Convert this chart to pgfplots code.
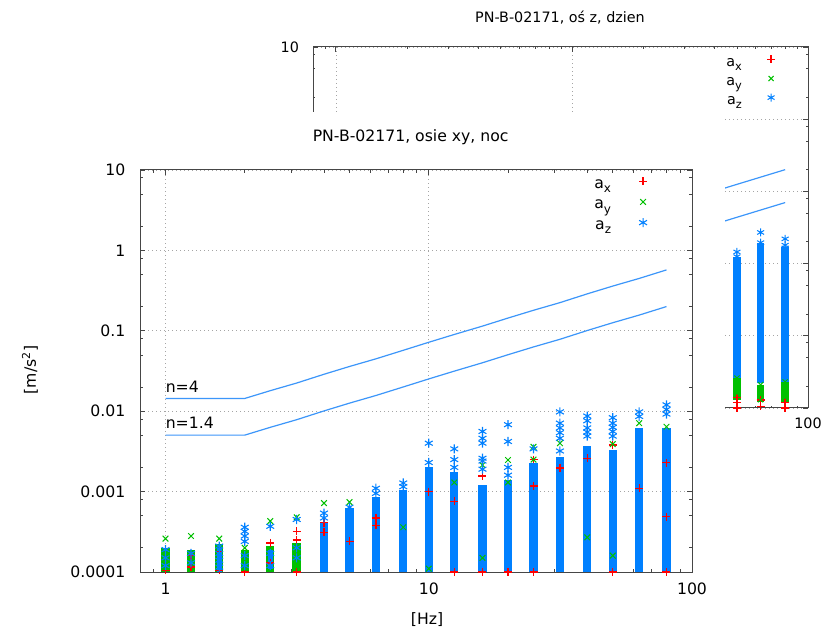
\documentclass[border=0pt]{standalone}
\usepackage{pgfplots}
\pgfplotsset{compat=1.18}
\usepackage{fontspec}
\setmainfont{DejaVu Sans}

\definecolor{gpred}{RGB}{255,0,0}
\definecolor{gpgreen}{RGB}{0,192,0}
\definecolor{gpblue}{RGB}{0,128,255}
\definecolor{gpline}{RGB}{60,150,250}
\definecolor{gpaxis}{RGB}{70,70,70}
\definecolor{gpgrid}{RGB}{165,165,165}

\newcommand\sub[2][9]{\raisebox{-0.5ex}{\fontsize{#1}{#1}\selectfont #2}}

\begin{document}
\begin{tikzpicture}
\path[use as bounding box] (0,0) rectangle (620.25pt,475.5pt);

% ---- back plot: os z, dzien
\begin{axis}[
  at={(234.75pt,169.5pt)}, anchor=south west,
  width=371.25pt, height=270.75pt,
  xmode=log, ymode=log, scale only axis,
  xmin=0.8, xmax=100, ymin=1e-4, ymax=10,
  xtick={1,10,100}, xticklabels={1,10,100},
  ytick={1e-4,1e-3,1e-2,1e-1,1,10},
  yticklabels={0.0001,0.001,0.01,0.1,1,10},
  minor xtick={0.8,0.9,2,3,4,5,6,7,8,9,20,30,40,50,60,70,80,90},
  minor ytick={2e-4,5e-4,8e-4,2e-3,5e-3,8e-3,0.02,0.05,0.08,0.2,0.5,0.8,2,5,8},
  tick pos=both, tick align=inside,
  major tick length=3.4pt, minor tick length=1.8pt,
  every tick/.style={gpaxis, line width=0.6pt},
  axis line style={gpaxis, line width=0.75pt},
  grid=major,
  major grid style={gpgrid, line width=0.5pt, dash pattern=on 0.75pt off 2.25pt},
  clip=false,
  xticklabel style={yshift=-4pt},
  yticklabel style={xshift=-7pt},
  ticklabel style={font=\fontsize{10.75}{12}\selectfont},
  legend plot pos=right,
  legend cell align=right,
  legend image code/.code={\draw[#1,yshift=3pt] plot coordinates {(0pt,0pt)};},
  legend style={draw=none, fill=none, inner sep=0pt, at={(1,1)}, anchor=north east,
    xshift=-24.5pt, yshift=-5pt, row sep=0pt, font=\fontsize{10.75}{12}\selectfont,
    nodes={inner sep=0.9pt, text height=8.5pt, text depth=4pt},
    /tikz/every odd column/.append style={column sep=18pt}},
]
\addplot[draw=gpgreen, line width=5.5pt, unbounded coords=jump, forget plot] coordinates {
  (50,1.3e-4) (50,2.6e-4) (50,nan)
  (63,1.2e-4) (63,2.1e-4) (63,nan)
  (80,1.2e-4) (80,2.3e-4)};
\addplot[draw=gpblue, line width=5.5pt, unbounded coords=jump, forget plot] coordinates {
  (50,2.6e-4) (50,1.24e-2) (50,nan)
  (63,2.2e-4) (63,1.92e-2) (63,nan)
  (80,2.3e-4) (80,1.7e-2)};
\addplot[only marks, mark=+, draw=gpred, color=gpred, mark size=3pt,
  mark options={solid, draw=gpred, line width=1.1pt}]
  coordinates {(50,1.4e-4) (50,1.2e-4) (50,1.0e-4) (63,1.3e-4) (63,1.05e-4) (80,1.2e-4) (80,1.0e-4)};
\addlegendentry{a\sub[8.5]{x}}
\addplot[only marks, mark=x, color=gpgreen, mark size=2.7pt,
  mark options={draw=gpgreen, line width=0.75pt}]
  coordinates {(50,2.6e-4) (50,1.6e-4) (63,2.1e-4) (63,1.3e-4) (80,2.3e-4) (80,1.4e-4)};
\addlegendentry{a\sub[8.5]{y}}
\addplot[only marks, mark=asterisk, color=gpblue, mark size=3pt,
  mark options={draw=gpblue, line width=0.75pt}]
  coordinates {(50,1.45e-2) (50,1.25e-2) (63,2.7e-2) (63,1.95e-2) (80,2.2e-2) (80,1.8e-2) (80,1.65e-2)};
\addlegendentry{a\sub[8.5]{z}}
% PN-B-02171 curves, n=4 and n=1.4
\addplot[gpline, line width=0.9pt, forget plot] coordinates {
  (1,0.04) (1.25,0.0356) (1.6,0.032) (2,0.028) (2.5,0.0252) (3.15,0.0228) (4,0.02) (5,0.02)
  (6.3,0.02) (8,0.02) (10,0.025) (12.5,0.0312) (16,0.04) (20,0.05) (25,0.0624) (31.5,0.0788)
  (40,0.1) (50,0.1252) (63,0.1576) (80,0.2)};
\addplot[gpline, line width=0.9pt, forget plot] coordinates {
  (1,0.014) (1.25,0.01246) (1.6,0.0112) (2,0.0098) (2.5,0.00882) (3.15,0.00798) (4,0.007) (5,0.007)
  (6.3,0.007) (8,0.007) (10,0.00875) (12.5,0.01092) (16,0.014) (20,0.0175) (25,0.02184) (31.5,0.02758)
  (40,0.035) (50,0.04382) (63,0.05516) (80,0.07)};
\end{axis}

% canvas of the front plot
\fill[white] (0,0) rectangle (543.75pt,391.5pt);

% ---- front plot: osie xy, noc
\begin{axis}[
  at={(105pt,46.5pt)}, anchor=south west,
  width=414pt, height=301.5pt,
  xmode=log, ymode=log, scale only axis,
  xmin=0.8, xmax=100, ymin=1e-4, ymax=10,
  xtick={1,10,100}, xticklabels={1,10,100},
  ytick={1e-4,1e-3,1e-2,1e-1,1,10},
  yticklabels={0.0001,0.001,0.01,0.1,1,10},
  minor xtick={0.8,0.9,2,3,4,5,6,7,8,9,20,30,40,50,60,70,80,90},
  minor ytick={2e-4,5e-4,8e-4,2e-3,5e-3,8e-3,0.02,0.05,0.08,0.2,0.5,0.8,2,5,8},
  tick pos=both, tick align=inside,
  major tick length=3.75pt, minor tick length=2pt,
  every tick/.style={gpaxis, line width=0.6pt},
  axis line style={gpaxis, line width=0.75pt},
  grid=major,
  major grid style={gpgrid, line width=0.5pt, dash pattern=on 0.75pt off 2.25pt},
  clip=false,
  xticklabel style={yshift=-4.5pt},
  yticklabel style={xshift=-7.5pt},
  ticklabel style={font=\fontsize{11.75}{13}\selectfont},
  legend plot pos=right,
  legend cell align=right,
  legend image code/.code={\draw[#1,yshift=3pt] plot coordinates {(0pt,0pt)};},
  legend style={draw=none, fill=none, inner sep=0pt, at={(1,1)}, anchor=north east,
    xshift=-33.5pt, yshift=-3.5pt, row sep=0pt, font=\fontsize{11.75}{13}\selectfont,
    nodes={inner sep=1pt, text height=9pt, text depth=4.5pt},
    /tikz/every odd column/.append style={column sep=20pt}},
]
\addplot[draw=gpgreen, line width=6.3pt, unbounded coords=jump, forget plot] coordinates {
  (1,1e-4) (1,2.0e-4) (1,nan)
  (1.25,1e-4) (1.25,1.9e-4) (1.25,nan)
  (1.6,1e-4) (1.6,2.2e-4) (1.6,nan)
  (2,1e-4) (2,1.9e-4) (2,nan)
  (2.5,1e-4) (2.5,2.1e-4) (2.5,nan)
  (3.15,1e-4) (3.15,2.3e-4)};
\addplot[draw=gpblue, line width=4pt, unbounded coords=jump, forget plot] coordinates {
  (1.6,1e-4) (1.6,2.0e-4) (1.6,nan)
  (2.5,1.1e-4) (2.5,1.9e-4)};
\addplot[draw=gpblue, line width=6.3pt, unbounded coords=jump, forget plot] coordinates {
  (4,1e-4) (4,4.2e-4) (4,nan)
  (5,1e-4) (5,6.2e-4) (5,nan)
  (6.3,1e-4) (6.3,8.6e-4) (6.3,nan)
  (8,1e-4) (8,1.05e-3) (8,nan)
  (10,1e-4) (10,2.02e-3) (10,nan)
  (12.5,1e-4) (12.5,1.75e-3) (12.5,nan)
  (16,1e-4) (16,1.2e-3) (16,nan)
  (20,1e-4) (20,1.4e-3) (20,nan)
  (25,1e-4) (25,2.3e-3) (25,nan)
  (31.5,1e-4) (31.5,2.7e-3) (31.5,nan)
  (40,1e-4) (40,3.7e-3) (40,nan)
  (50,1e-4) (50,3.3e-3) (50,nan)
  (63,1e-4) (63,6.2e-3) (63,nan)
  (80,1e-4) (80,6.2e-3)};
\addplot[only marks, mark=+, draw=gpred, color=gpred, mark size=3pt,
  mark options={solid, draw=gpred, line width=1pt}]
  coordinates {(1,1.05e-4) (1.25,1.15e-4) (1.25,1.6e-4) (1.6,1.8e-4) (1.6,1.05e-4) (2,1.0e-4)
  (2.5,2.3e-4) (2.5,1.3e-4) (3.15,3.2e-4) (3.15,2.5e-4) (3.15,1.0e-4) (4,4.1e-4) (4,3.1e-4)
  (5,2.4e-4) (6.3,4.7e-4) (6.3,3.8e-4) (10,1.0e-3) (12.5,7.6e-4) (12.5,1.0e-4) (16,1.56e-3)
  (16,1.0e-4) (20,1.0e-4) (25,2.5e-3) (25,1.17e-3) (25,1.0e-4) (31.5,1.97e-3) (40,2.6e-3)
  (50,3.8e-3) (50,1.0e-4) (63,1.1e-3) (80,2.3e-3) (80,4.9e-4) (80,1.0e-4)};
\addlegendentry{a\sub{x}}
\addplot[only marks, mark=x, color=gpgreen, mark size=3pt,
  mark options={draw=gpgreen, line width=0.75pt}]
  coordinates {(1,2.6e-4) (1.25,2.8e-4) (1.6,2.6e-4) (2,2.0e-4) (2.5,4.3e-4) (3.15,4.8e-4)
  (4,7.2e-4) (5,7.4e-4) (8,3.6e-4) (10,1.1e-4) (12.5,1.3e-3) (16,2.14e-3) (16,1.5e-4)
  (20,2.47e-3) (20,1.3e-3) (25,3.6e-3) (25,2.5e-3) (31.5,4.0e-3) (40,2.7e-4) (50,3.9e-3)
  (50,1.6e-4) (63,7.1e-3) (80,6.4e-3)};
\addlegendentry{a\sub{y}}
\addplot[only marks, mark=asterisk, color=gpblue, mark size=3.4pt,
  mark options={draw=gpblue, line width=0.8pt}]
  coordinates {(1,1.9e-4) (1,1.5e-4) (1,1.2e-4) (1.25,1.7e-4) (1.25,1.3e-4)
  (1.6,2.1e-4) (1.6,1.7e-4) (1.6,1.4e-4) (1.6,1.15e-4)
  (2,3.6e-4) (2,3.2e-4) (2,2.8e-4) (2,2.4e-4) (2,1.6e-4) (2,1.2e-4)
  (2.5,3.7e-4) (2.5,1.7e-4) (2.5,1.2e-4) (3.15,4.5e-4) (3.15,2.0e-4) (3.15,1.5e-4)
  (4,5.4e-4) (4,4.7e-4) (5,6.4e-4) (6.3,1.1e-3) (6.3,9.5e-4) (8,1.28e-3) (8,1.15e-3)
  (10,4.0e-3) (10,2.3e-3) (12.5,3.4e-3) (12.5,2.5e-3) (12.5,2.0e-3)
  (16,5.6e-3) (16,4.6e-3) (16,4.0e-3) (16,2.6e-3) (16,2.4e-3) (16,1.9e-3)
  (20,6.8e-3) (20,4.2e-3) (20,2.0e-3) (20,1.6e-3) (25,3.4e-3) (25,2.0e-3)
  (31.5,9.8e-3) (31.5,7.1e-3) (31.5,6.2e-3) (31.5,5.4e-3) (31.5,4.6e-3) (31.5,3.2e-3)
  (40,8.7e-3) (40,7.6e-3) (40,6.2e-3) (40,5.5e-3) (40,4.9e-3)
  (50,8.3e-3) (50,7.1e-3) (50,6.3e-3) (50,5.6e-3) (50,4.9e-3)
  (63,9.8e-3) (63,8.6e-3) (80,1.2e-2) (80,1.05e-2) (80,9.2e-3)};
\addlegendentry{a\sub{z}}
% PN-B-02171 curves for xy, n=4 and n=1.4
\addplot[gpline, line width=0.9pt, forget plot] coordinates {
  (1,0.0144) (1.25,0.0144) (1.6,0.0144) (2,0.0144) (2.5,0.018) (3.15,0.0224) (4,0.0288)
  (5,0.036) (6.3,0.0448) (8,0.0572) (10,0.072) (12.5,0.09) (16,0.1144) (20,0.144)
  (25,0.18) (31.5,0.224) (40,0.288) (50,0.36) (63,0.448) (80,0.572)};
\addplot[gpline, line width=0.9pt, forget plot] coordinates {
  (1,0.00504) (1.25,0.00504) (1.6,0.00504) (2,0.00504) (2.5,0.0063) (3.15,0.00784) (4,0.01008)
  (5,0.0126) (6.3,0.01568) (8,0.02002) (10,0.0252) (12.5,0.0315) (16,0.04004) (20,0.0504)
  (25,0.063) (31.5,0.0784) (40,0.1008) (50,0.126) (63,0.1568) (80,0.2002)};
\node[anchor=base west, inner sep=0pt, yshift=4.5pt, font=\fontsize{11.75}{13}\selectfont]
  at (axis cs:1,0.0144) {n=4};
\node[anchor=base west, inner sep=0pt, yshift=5pt, font=\fontsize{11.75}{13}\selectfont]
  at (axis cs:1,0.00504) {n=1.4};
\end{axis}

% titles and axis labels
\node[font=\fontsize{10.75}{12}\selectfont] at (420pt,462pt) {PN-B-02171, oś z, dzien};
\node[font=\fontsize{11.75}{13}\selectfont] at (308pt,372.75pt) {PN-B-02171, osie xy, noc};
\node[font=\fontsize{11.75}{13}\selectfont] at (320.25pt,10.5pt) {[Hz]};
\node[font=\fontsize{11.75}{13}\selectfont, rotate=90] at (22.5pt,198pt) {[m/s\textsuperscript{2}]};
\end{tikzpicture}
\end{document}
